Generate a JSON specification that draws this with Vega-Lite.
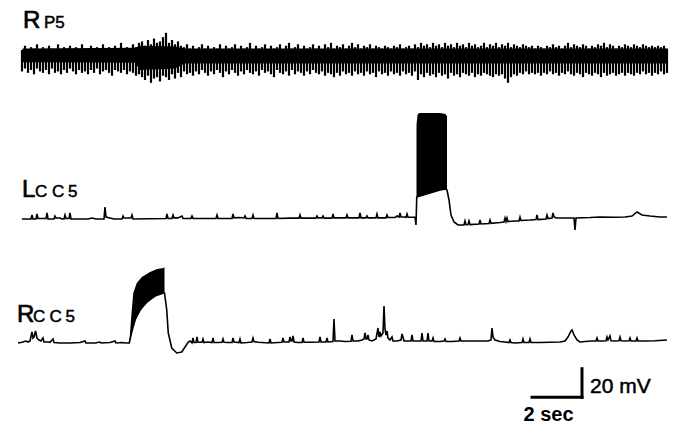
{
"$schema":"https://vega.github.io/schema/vega-lite/v6.json",
"width":675,"height":426,"padding":0,
"autosize":{"type":"fit","contains":"padding"},
"background":"white",
"config":{"view":{"stroke":null}},
"datasets":{
"rp5core":[{"t":0.9,"lo":-1.5,"hi":8},{"t":5.4,"lo":-2,"hi":8.5},{"t":5.6,"lo":-7,"hi":10},{"t":7.0,"lo":-6,"hi":9.5},{"t":7.4,"lo":-2.5,"hi":8},{"t":26.66,"lo":-2.5,"hi":8}],
"rp5":[
{"t":0.88,"hi":7,"lo":-8},{"t":1.00,"hi":10,"lo":-6},{"t":1.12,"hi":6,"lo":-9},{"t":1.24,"hi":9,"lo":-7},{"t":1.36,"hi":8,"lo":-10},{"t":1.48,"hi":11,"lo":-6},{"t":1.60,"hi":6,"lo":-8},{"t":1.72,"hi":9,"lo":-9},{"t":1.84,"hi":7,"lo":-7},{"t":1.96,"hi":10,"lo":-10},
{"t":2.08,"hi":8,"lo":-6},{"t":2.20,"hi":6,"lo":-9},{"t":2.32,"hi":11,"lo":-8},{"t":2.44,"hi":7,"lo":-10},{"t":2.56,"hi":9,"lo":-7},{"t":2.68,"hi":8,"lo":-9},{"t":2.80,"hi":10,"lo":-6},{"t":2.92,"hi":6,"lo":-8},{"t":3.04,"hi":9,"lo":-10},{"t":3.16,"hi":7,"lo":-7},
{"t":3.28,"hi":11,"lo":-9},{"t":3.40,"hi":8,"lo":-8},{"t":3.52,"hi":6,"lo":-10},{"t":3.64,"hi":10,"lo":-7},{"t":3.76,"hi":7,"lo":-9},{"t":3.88,"hi":9,"lo":-6},{"t":4.00,"hi":8,"lo":-10},{"t":4.12,"hi":11,"lo":-8},{"t":4.24,"hi":6,"lo":-7},{"t":4.36,"hi":9,"lo":-9},
{"t":4.48,"hi":7,"lo":-11},{"t":4.60,"hi":10,"lo":-7},{"t":4.72,"hi":8,"lo":-8},{"t":4.84,"hi":12,"lo":-9},{"t":4.96,"hi":7,"lo":-7},{"t":5.08,"hi":9,"lo":-10},{"t":5.20,"hi":8,"lo":-8},{"t":5.32,"hi":11,"lo":-9},{"t":5.44,"hi":9,"lo":-11},{"t":5.56,"hi":12,"lo":-10},
{"t":5.68,"hi":13,"lo":-12},{"t":5.80,"hi":10,"lo":-14},{"t":5.92,"hi":14,"lo":-11},{"t":6.04,"hi":11,"lo":-16},{"t":6.16,"hi":15,"lo":-13},{"t":6.28,"hi":12,"lo":-12},{"t":6.40,"hi":13,"lo":-15},{"t":6.52,"hi":16,"lo":-11},{"t":6.64,"hi":19,"lo":-12},{"t":6.76,"hi":12,"lo":-14},
{"t":6.88,"hi":14,"lo":-10},{"t":7.00,"hi":11,"lo":-13},{"t":7.12,"hi":13,"lo":-9},{"t":7.24,"hi":10,"lo":-12},{"t":7.36,"hi":9,"lo":-8},{"t":7.48,"hi":11,"lo":-10},{"t":7.60,"hi":8,"lo":-9},{"t":7.72,"hi":10,"lo":-11},{"t":7.84,"hi":7,"lo":-8},{"t":7.96,"hi":9,"lo":-10},
{"t":8.08,"hi":11,"lo":-7},{"t":8.20,"hi":8,"lo":-9},{"t":8.32,"hi":10,"lo":-11},{"t":8.44,"hi":7,"lo":-8},{"t":8.56,"hi":9,"lo":-10},{"t":8.68,"hi":8,"lo":-7},{"t":8.80,"hi":11,"lo":-9},{"t":8.92,"hi":7,"lo":-12},{"t":9.04,"hi":10,"lo":-8},{"t":9.16,"hi":8,"lo":-10},
{"t":9.28,"hi":9,"lo":-7},{"t":9.40,"hi":11,"lo":-9},{"t":9.52,"hi":7,"lo":-11},{"t":9.64,"hi":10,"lo":-8},{"t":9.76,"hi":8,"lo":-10},{"t":9.88,"hi":9,"lo":-7},{"t":10.00,"hi":12,"lo":-9},{"t":10.12,"hi":7,"lo":-10},{"t":10.24,"hi":10,"lo":-8},{"t":10.36,"hi":8,"lo":-11},
{"t":10.48,"hi":9,"lo":-7},{"t":10.60,"hi":11,"lo":-9},{"t":10.72,"hi":7,"lo":-8},{"t":10.84,"hi":10,"lo":-10},{"t":10.96,"hi":8,"lo":-12},{"t":11.08,"hi":9,"lo":-7},{"t":11.20,"hi":11,"lo":-9},{"t":11.32,"hi":7,"lo":-10},{"t":11.44,"hi":10,"lo":-8},{"t":11.56,"hi":12,"lo":-11},
{"t":11.68,"hi":8,"lo":-7},{"t":11.80,"hi":9,"lo":-10},{"t":11.92,"hi":11,"lo":-8},{"t":12.04,"hi":7,"lo":-9},{"t":12.16,"hi":10,"lo":-11},{"t":12.28,"hi":8,"lo":-8},{"t":12.40,"hi":9,"lo":-10},{"t":12.52,"hi":11,"lo":-7},{"t":12.64,"hi":8,"lo":-9},{"t":12.76,"hi":10,"lo":-10},
{"t":12.88,"hi":7,"lo":-8},{"t":13.00,"hi":11,"lo":-11},{"t":13.12,"hi":9,"lo":-9},{"t":13.24,"hi":12,"lo":-10},{"t":13.36,"hi":8,"lo":-12},{"t":13.48,"hi":10,"lo":-9},{"t":13.60,"hi":9,"lo":-11},{"t":13.72,"hi":11,"lo":-8},{"t":13.84,"hi":8,"lo":-10},{"t":13.96,"hi":10,"lo":-9},
{"t":14.08,"hi":12,"lo":-11},{"t":14.20,"hi":9,"lo":-8},{"t":14.32,"hi":11,"lo":-10},{"t":14.44,"hi":8,"lo":-9},{"t":14.56,"hi":10,"lo":-11},{"t":14.68,"hi":9,"lo":-8},{"t":14.80,"hi":11,"lo":-10},{"t":14.92,"hi":8,"lo":-9},{"t":15.04,"hi":10,"lo":-12},{"t":15.16,"hi":9,"lo":-8},
{"t":15.28,"hi":8,"lo":-10},{"t":15.40,"hi":10,"lo":-9},{"t":15.52,"hi":9,"lo":-11},{"t":15.64,"hi":8,"lo":-8},{"t":15.76,"hi":10,"lo":-10},{"t":15.88,"hi":9,"lo":-9},{"t":16.00,"hi":11,"lo":-11},{"t":16.12,"hi":8,"lo":-8},{"t":16.24,"hi":9,"lo":-10},{"t":16.36,"hi":10,"lo":-9},
{"t":16.48,"hi":8,"lo":-11},{"t":16.60,"hi":11,"lo":-8},{"t":16.72,"hi":9,"lo":-14},{"t":16.84,"hi":12,"lo":-10},{"t":16.96,"hi":10,"lo":-12},{"t":17.08,"hi":11,"lo":-9},{"t":17.20,"hi":9,"lo":-11},{"t":17.32,"hi":12,"lo":-10},{"t":17.44,"hi":10,"lo":-12},{"t":17.56,"hi":11,"lo":-9},
{"t":17.68,"hi":9,"lo":-11},{"t":17.80,"hi":12,"lo":-10},{"t":17.92,"hi":10,"lo":-13},{"t":18.04,"hi":11,"lo":-9},{"t":18.16,"hi":9,"lo":-11},{"t":18.28,"hi":12,"lo":-10},{"t":18.40,"hi":10,"lo":-12},{"t":18.52,"hi":11,"lo":-9},{"t":18.64,"hi":9,"lo":-10},{"t":18.76,"hi":12,"lo":-11},
{"t":18.88,"hi":10,"lo":-9},{"t":19.00,"hi":11,"lo":-12},{"t":19.12,"hi":9,"lo":-10},{"t":19.24,"hi":10,"lo":-11},{"t":19.36,"hi":12,"lo":-9},{"t":19.48,"hi":9,"lo":-10},{"t":19.60,"hi":11,"lo":-11},{"t":19.72,"hi":10,"lo":-12},{"t":19.84,"hi":12,"lo":-10},{"t":19.96,"hi":9,"lo":-11},
{"t":20.08,"hi":11,"lo":-10},{"t":20.20,"hi":10,"lo":-13},{"t":20.32,"hi":12,"lo":-16},{"t":20.44,"hi":9,"lo":-12},{"t":20.56,"hi":11,"lo":-10},{"t":20.68,"hi":10,"lo":-11},{"t":20.80,"hi":9,"lo":-9},{"t":20.92,"hi":11,"lo":-10},{"t":21.04,"hi":10,"lo":-8},{"t":21.16,"hi":9,"lo":-10},
{"t":21.28,"hi":10,"lo":-9},{"t":21.40,"hi":8,"lo":-10},{"t":21.52,"hi":10,"lo":-9},{"t":21.64,"hi":9,"lo":-11},{"t":21.76,"hi":8,"lo":-9},{"t":21.88,"hi":10,"lo":-10},{"t":22.00,"hi":9,"lo":-8},{"t":22.12,"hi":11,"lo":-10},{"t":22.24,"hi":9,"lo":-9},{"t":22.36,"hi":10,"lo":-11},
{"t":22.48,"hi":8,"lo":-9},{"t":22.60,"hi":10,"lo":-10},{"t":22.72,"hi":12,"lo":-8},{"t":22.84,"hi":9,"lo":-10},{"t":22.96,"hi":11,"lo":-11},{"t":23.08,"hi":10,"lo":-9},{"t":23.20,"hi":9,"lo":-10},{"t":23.32,"hi":11,"lo":-12},{"t":23.44,"hi":10,"lo":-9},{"t":23.56,"hi":8,"lo":-10},
{"t":23.68,"hi":10,"lo":-11},{"t":23.80,"hi":9,"lo":-9},{"t":23.92,"hi":11,"lo":-10},{"t":24.04,"hi":10,"lo":-12},{"t":24.16,"hi":12,"lo":-9},{"t":24.28,"hi":9,"lo":-11},{"t":24.40,"hi":11,"lo":-10},{"t":24.52,"hi":10,"lo":-9},{"t":24.64,"hi":8,"lo":-11},{"t":24.76,"hi":10,"lo":-10},
{"t":24.88,"hi":9,"lo":-9},{"t":25.00,"hi":11,"lo":-11},{"t":25.12,"hi":10,"lo":-9},{"t":25.24,"hi":9,"lo":-10},{"t":25.36,"hi":11,"lo":-11},{"t":25.48,"hi":10,"lo":-9},{"t":25.60,"hi":9,"lo":-10},{"t":25.72,"hi":11,"lo":-8},{"t":25.84,"hi":10,"lo":-10},{"t":25.96,"hi":9,"lo":-9},
{"t":26.08,"hi":10,"lo":-11},{"t":26.20,"hi":9,"lo":-9},{"t":26.32,"hi":10,"lo":-10},{"t":26.44,"hi":9,"lo":-8},{"t":26.56,"hi":10,"lo":-10},{"t":26.68,"hi":8,"lo":-9}
],
"lcc5":[
{"t":0.88,"v":0},{"t":1.24,"v":0},{"t":1.28,"v":2.8},{"t":1.32,"v":0},{"t":1.44,"v":0},{"t":1.48,"v":3.5},{"t":1.52,"v":0.3},{"t":1.84,"v":0.3},{"t":1.88,"v":4.2},{"t":1.92,"v":0},
{"t":2.16,"v":0},{"t":2.2,"v":2.1},{"t":2.24,"v":0.7},{"t":2.4,"v":0.7},{"t":2.48,"v":0},{"t":2.56,"v":0},{"t":2.6,"v":2.8},{"t":2.64,"v":0.3},{"t":2.76,"v":0.3},{"t":2.8,"v":4.2},{"t":2.84,"v":0},
{"t":3.52,"v":0},{"t":3.68,"v":0.7},{"t":3.84,"v":0},{"t":4.16,"v":0},{"t":4.2,"v":8.4},{"t":4.24,"v":1.4},{"t":4.4,"v":0.7},{"t":4.56,"v":0},
{"t":4.88,"v":0},{"t":4.92,"v":2.1},{"t":4.96,"v":0.7},{"t":5.12,"v":0.7},{"t":5.24,"v":0.7},{"t":5.28,"v":2.8},{"t":5.32,"v":0},{"t":6.0,"v":0.2},
{"t":6.64,"v":0.4},{"t":6.68,"v":3.5},{"t":6.72,"v":0.4},{"t":6.88,"v":0.4},{"t":6.92,"v":2.8},{"t":6.96,"v":0.8},{"t":7.12,"v":0.8},{"t":7.28,"v":2.1},{"t":7.32,"v":0.4},
{"t":7.64,"v":0.4},{"t":7.68,"v":2.1},{"t":7.72,"v":0.4},{"t":8.4,"v":0.4},{"t":8.64,"v":0.4},{"t":8.68,"v":2.8},{"t":8.72,"v":0.4},
{"t":9.28,"v":0.4},{"t":9.32,"v":3.5},{"t":9.36,"v":0.8},{"t":9.6,"v":1.0},{"t":9.76,"v":0.7},{"t":9.8,"v":2.1},{"t":9.84,"v":0.4},
{"t":10.08,"v":0.4},{"t":10.12,"v":2.8},{"t":10.16,"v":0.4},{"t":10.6,"v":0.4},{"t":11.04,"v":0.4},{"t":11.08,"v":4.2},{"t":11.12,"v":0.4},
{"t":11.6,"v":0.6},{"t":11.96,"v":0.6},{"t":12.0,"v":2.8},{"t":12.04,"v":0.6},{"t":12.64,"v":0.6},{"t":12.68,"v":2.1},{"t":12.72,"v":0.8},{"t":12.88,"v":0.8},{"t":12.92,"v":2.1},{"t":12.96,"v":0.6},
{"t":13.28,"v":0.6},{"t":13.32,"v":3.5},{"t":13.36,"v":0.8},{"t":13.84,"v":0.8},{"t":13.88,"v":2.8},{"t":13.92,"v":0.8},
{"t":14.36,"v":0.8},{"t":14.4,"v":4.2},{"t":14.44,"v":0.8},{"t":14.64,"v":0.8},{"t":14.68,"v":2.1},{"t":14.72,"v":0.8},
{"t":15.04,"v":0.8},{"t":15.08,"v":3.5},{"t":15.12,"v":0.8},{"t":15.44,"v":0.8},{"t":15.48,"v":2.8},{"t":15.52,"v":1.0},
{"t":15.8,"v":1.0},{"t":15.88,"v":2.1},{"t":15.96,"v":1.4},{"t":16.0,"v":4.2},{"t":16.04,"v":1.4},{"t":16.16,"v":1.4},{"t":16.24,"v":1.2},{"t":16.28,"v":3.5},{"t":16.32,"v":1.2},{"t":16.6,"v":1.2},
{"t":16.64,"v":-4.2},{"t":16.67,"v":15.4},{"t":16.8,"v":16.1},{"t":17.2,"v":18.2},{"t":17.6,"v":20.3},{"t":17.84,"v":21},
{"t":17.88,"v":20.3},{"t":17.96,"v":13.3},{"t":18.04,"v":2.8},{"t":18.16,"v":-2.1},{"t":18.32,"v":-4.2},{"t":18.56,"v":-4.2},{"t":18.6,"v":-1.4},{"t":18.64,"v":-4.0},{"t":18.72,"v":-3.9},{"t":18.76,"v":-1.4},{"t":18.8,"v":-3.9},
{"t":19.16,"v":-3.5},{"t":19.2,"v":-0.7},{"t":19.24,"v":-3.5},{"t":19.56,"v":-3.2},{"t":19.6,"v":-0.7},{"t":19.64,"v":-3.0},{"t":20.0,"v":-2.5},{"t":20.16,"v":-2.1},{"t":20.2,"v":0.7},{"t":20.24,"v":-1.8},{"t":20.28,"v":0.7},{"t":20.32,"v":-1.8},
{"t":20.6,"v":-1.4},{"t":20.76,"v":-1.4},{"t":20.8,"v":1.4},{"t":20.84,"v":-1.0},{"t":21.2,"v":-0.7},{"t":21.44,"v":-0.4},{"t":21.48,"v":2.8},{"t":21.52,"v":-0.4},
{"t":21.84,"v":0},{"t":21.88,"v":2.8},{"t":21.92,"v":0.3},{"t":22.08,"v":0.7},{"t":22.12,"v":4.2},{"t":22.16,"v":1.4},{"t":22.24,"v":0.7},{"t":22.6,"v":0.7},
{"t":22.96,"v":0.7},{"t":23.0,"v":-7.7},{"t":23.04,"v":0.7},{"t":23.6,"v":1.0},{"t":24.0,"v":1.4},{"t":24.6,"v":1.2},{"t":25.0,"v":1.4},{"t":25.28,"v":2.1},{"t":25.48,"v":4.9},{"t":25.68,"v":2.8},{"t":26.0,"v":2.1},{"t":26.4,"v":1.4},{"t":26.68,"v":1.4}
],
"lcc5burst":[{"t":16.66,"lo":15.4,"hi":66},{"t":16.7,"lo":15.6,"hi":72.8},{"t":16.76,"lo":16.0,"hi":74.2},{"t":17.2,"lo":18.2,"hi":74.2},{"t":17.6,"lo":20.3,"hi":74.2},{"t":17.82,"lo":21,"hi":73.5},{"t":17.88,"lo":21,"hi":72}],
"rcc5":[
{"t":0.72,"v":0},{"t":0.88,"v":0.5},{"t":1.04,"v":1.4},{"t":1.12,"v":0.7},{"t":1.2,"v":1.4},{"t":1.28,"v":7.7},{"t":1.32,"v":3.5},{"t":1.36,"v":4.2},{"t":1.42,"v":8.4},{"t":1.48,"v":3.5},{"t":1.56,"v":2.1},{"t":1.64,"v":1.4},{"t":1.72,"v":3.5},{"t":1.76,"v":0.7},
{"t":1.92,"v":0.7},{"t":2.0,"v":0.5},{"t":2.12,"v":2.8},{"t":2.16,"v":0.3},{"t":2.4,"v":0},{"t":2.8,"v":0},{"t":3.2,"v":0.3},{"t":3.4,"v":1.4},{"t":3.44,"v":0},{"t":3.8,"v":0},{"t":4.0,"v":0.7},{"t":4.04,"v":0},{"t":4.4,"v":0.4},{"t":4.6,"v":1.4},{"t":4.64,"v":0},{"t":4.88,"v":0.3},{"t":5.04,"v":0},{"t":5.16,"v":0},
{"t":5.17,"v":0},{"t":5.27,"v":7.7},{"t":5.4,"v":16.1},{"t":5.6,"v":23.1},{"t":5.87,"v":28.7},{"t":6.2,"v":32.9},{"t":6.54,"v":35},{"t":6.58,"v":35},{"t":6.67,"v":23.1},{"t":6.73,"v":7},{"t":6.87,"v":-3.5},{"t":7.07,"v":-7},{"t":7.27,"v":-6.3},{"t":7.4,"v":-2.8},{"t":7.53,"v":0.7},{"t":7.6,"v":1.4},
{"t":7.68,"v":0},{"t":7.72,"v":3.5},{"t":7.76,"v":0.3},{"t":7.84,"v":0.3},{"t":7.88,"v":4.2},{"t":7.92,"v":0.5},{"t":8.08,"v":0.5},{"t":8.12,"v":2.8},{"t":8.16,"v":0.3},{"t":8.32,"v":0.7},{"t":8.48,"v":0.3},{"t":8.52,"v":3.5},{"t":8.56,"v":0.3},
{"t":8.72,"v":0.3},{"t":8.88,"v":0.5},{"t":8.92,"v":2.8},{"t":8.96,"v":0.5},{"t":9.12,"v":0.3},{"t":9.28,"v":0.3},{"t":9.32,"v":3.5},{"t":9.36,"v":0.7},{"t":9.56,"v":0.3},{"t":9.6,"v":2.8},{"t":9.64,"v":0},
{"t":9.88,"v":0.3},{"t":10.08,"v":0.7},{"t":10.12,"v":3.5},{"t":10.16,"v":1.0},{"t":10.32,"v":0.5},{"t":10.48,"v":0.3},{"t":10.76,"v":0},{"t":10.8,"v":2.8},{"t":10.84,"v":0},
{"t":11.12,"v":0.3},{"t":11.28,"v":0.5},{"t":11.32,"v":3.5},{"t":11.36,"v":0.7},{"t":11.56,"v":0.7},{"t":11.6,"v":4.2},{"t":11.64,"v":1.4},{"t":11.68,"v":1.4},{"t":11.72,"v":4.9},{"t":11.76,"v":0.7},
{"t":11.92,"v":0.3},{"t":12.08,"v":0.3},{"t":12.12,"v":3.5},{"t":12.16,"v":0.5},{"t":12.48,"v":0.5},{"t":12.76,"v":0.7},{"t":12.8,"v":4.2},{"t":12.84,"v":0.7},{"t":13.04,"v":0.7},{"t":13.08,"v":3.5},{"t":13.12,"v":0.7},
{"t":13.32,"v":1.0},{"t":13.36,"v":16.8},{"t":13.4,"v":1.4},{"t":13.6,"v":1.4},{"t":13.8,"v":1.0},{"t":14.04,"v":1.2},{"t":14.08,"v":5.6},{"t":14.12,"v":1.4},{"t":14.32,"v":1.4},{"t":14.48,"v":2.1},
{"t":14.56,"v":2.8},{"t":14.6,"v":7.0},{"t":14.64,"v":2.8},{"t":14.68,"v":2.8},{"t":14.72,"v":5.6},{"t":14.76,"v":2.1},{"t":14.88,"v":1.4},{"t":15.04,"v":2.8},{"t":15.12,"v":10.5},{"t":15.16,"v":4.2},{"t":15.2,"v":7.7},{"t":15.24,"v":4.9},{"t":15.32,"v":7},{"t":15.36,"v":25.9},{"t":15.4,"v":9.8},{"t":15.44,"v":5.6},{"t":15.48,"v":8.4},{"t":15.52,"v":3.5},
{"t":15.6,"v":2.1},{"t":15.68,"v":4.2},{"t":15.72,"v":1.4},{"t":15.88,"v":1.4},{"t":16.04,"v":2.1},{"t":16.08,"v":6.3},{"t":16.12,"v":4.2},{"t":16.16,"v":1.4},{"t":16.28,"v":1.4},{"t":16.44,"v":1.4},{"t":16.48,"v":5.6},{"t":16.52,"v":1.4},
{"t":16.72,"v":1.4},{"t":16.84,"v":1.4},{"t":16.88,"v":7.0},{"t":16.92,"v":1.4},{"t":17.08,"v":1.4},{"t":17.12,"v":7.0},{"t":17.16,"v":1.4},{"t":17.28,"v":1.4},{"t":17.32,"v":3.5},{"t":17.36,"v":1.0},
{"t":17.6,"v":1.0},{"t":17.76,"v":1.4},{"t":17.8,"v":2.8},{"t":17.84,"v":1.0},{"t":18.08,"v":1.0},{"t":18.36,"v":1.4},{"t":18.4,"v":3.5},{"t":18.44,"v":1.4},{"t":18.8,"v":1.4},{"t":19.2,"v":1.4},
{"t":19.52,"v":1.4},{"t":19.64,"v":2.1},{"t":19.68,"v":10.5},{"t":19.72,"v":4.2},{"t":19.8,"v":2.1},{"t":20.0,"v":1.0},{"t":20.2,"v":0.7},{"t":20.36,"v":0.3},{"t":20.4,"v":2.1},{"t":20.44,"v":0.3},
{"t":20.6,"v":0},{"t":20.88,"v":0.3},{"t":20.92,"v":2.8},{"t":20.96,"v":0.3},{"t":21.16,"v":0.3},{"t":21.2,"v":2.8},{"t":21.24,"v":0.3},{"t":21.6,"v":0.3},{"t":22.0,"v":0.5},{"t":22.4,"v":0.7},
{"t":22.6,"v":1.4},{"t":22.72,"v":4.2},{"t":22.84,"v":8.4},{"t":22.88,"v":9.1},{"t":22.96,"v":5.6},{"t":23.08,"v":2.1},{"t":23.2,"v":0.7},{"t":23.4,"v":1.0},{"t":23.68,"v":1.4},
{"t":23.84,"v":1.4},{"t":23.88,"v":3.5},{"t":23.92,"v":1.4},{"t":24.08,"v":1.4},{"t":24.24,"v":1.6},{"t":24.28,"v":4.2},{"t":24.32,"v":2.1},{"t":24.4,"v":4.9},{"t":24.44,"v":1.6},
{"t":24.6,"v":1.4},{"t":24.76,"v":1.6},{"t":24.8,"v":4.2},{"t":24.84,"v":1.6},{"t":25.0,"v":1.4},{"t":25.16,"v":1.6},{"t":25.2,"v":3.5},{"t":25.24,"v":1.4},{"t":25.44,"v":1.4},{"t":25.48,"v":3.5},{"t":25.52,"v":1.4},
{"t":25.8,"v":1.4},{"t":26.2,"v":1.6},{"t":26.68,"v":2.1}
],
"rcc5burst":[{"t":5.17,"lo":0,"hi":0},{"t":5.27,"lo":7.7,"hi":23.1},{"t":5.33,"lo":11,"hi":35},{"t":5.47,"lo":18,"hi":42},{"t":5.67,"lo":24,"hi":46.2},{"t":6.0,"lo":30.5,"hi":49.7},{"t":6.28,"lo":33.6,"hi":51.8},{"t":6.54,"lo":35,"hi":52.5},{"t":6.58,"lo":35,"hi":53.2}],
"scalebar":[{"t":23.28,"t2":23.28,"v":-18,"v2":-38},{"t":21.28,"t2":23.28,"v":-38,"v2":-38}]
},
"layer":[
{"layer":[
 {"data":{"name":"rp5core"},"mark":{"type":"area","color":"#000"},
  "encoding":{"x":{"field":"t","type":"quantitative","scale":{"domain":[0,27],"nice":false,"zero":false},"axis":null},
   "y":{"field":"lo","type":"quantitative","scale":{"domain":[-256.2,42],"nice":false,"zero":false},"axis":null},"y2":{"field":"hi"}}},
 {"data":{"name":"rp5"},"mark":{"type":"rule","color":"#000","strokeWidth":2.2},
  "encoding":{"x":{"field":"t","type":"quantitative","axis":null},
   "y":{"field":"lo","type":"quantitative","axis":null},"y2":{"field":"hi"}}},
 {"data":{"values":[{"t":0.92,"v":22.4,"s":"R"}]},"mark":{"type":"text","align":"left","baseline":"alphabetic","font":"Liberation Sans","fontSize":24,"color":"#000","stroke":"#000","strokeWidth":0.7},
  "encoding":{"x":{"field":"t","type":"quantitative","axis":null},"y":{"field":"v","type":"quantitative","axis":null},"text":{"field":"s"}}},
 {"data":{"values":[{"t":1.76,"v":22.4,"s":"P5"}]},"mark":{"type":"text","align":"left","baseline":"alphabetic","font":"Liberation Sans","fontSize":17,"color":"#000","stroke":"#000","strokeWidth":0.5},
  "encoding":{"x":{"field":"t","type":"quantitative","axis":null},"y":{"field":"v","type":"quantitative","axis":null},"text":{"field":"s"}}}
]},
{"layer":[
 {"data":{"name":"lcc5burst"},"mark":{"type":"area","color":"#000"},
  "encoding":{"x":{"field":"t","type":"quantitative","scale":{"domain":[0,27],"nice":false,"zero":false},"axis":null},
   "y":{"field":"lo","type":"quantitative","scale":{"domain":[-144.9,153.3],"nice":false,"zero":false},"axis":null},"y2":{"field":"hi"}}},
 {"data":{"name":"lcc5"},"mark":{"type":"line","color":"#000","strokeWidth":1.6},
  "encoding":{"x":{"field":"t","type":"quantitative","axis":null},"y":{"field":"v","type":"quantitative","axis":null}}},
 {"data":{"values":[{"t":0.88,"v":15.4,"s":"L"}]},"mark":{"type":"text","align":"left","baseline":"alphabetic","font":"Liberation Sans","fontSize":24,"color":"#000","stroke":"#000","strokeWidth":0.7},
  "encoding":{"x":{"field":"t","type":"quantitative","axis":null},"y":{"field":"v","type":"quantitative","axis":null},"text":{"field":"s"}}},
 {"data":{"values":[{"t":1.4,"v":15.4,"s":"C"},{"t":2.08,"v":15.4,"s":"C"},{"t":2.72,"v":15.4,"s":"5"}]},"mark":{"type":"text","align":"left","baseline":"alphabetic","font":"Liberation Sans","fontSize":17,"color":"#000","stroke":"#000","strokeWidth":0.5},
  "encoding":{"x":{"field":"t","type":"quantitative","axis":null},"y":{"field":"v","type":"quantitative","axis":null},"text":{"field":"s"}}}
]},
{"layer":[
 {"data":{"name":"rcc5burst"},"mark":{"type":"area","color":"#000"},
  "encoding":{"x":{"field":"t","type":"quantitative","scale":{"domain":[0,27],"nice":false,"zero":false},"axis":null},
   "y":{"field":"lo","type":"quantitative","scale":{"domain":[-58.1,240.1],"nice":false,"zero":false},"axis":null},"y2":{"field":"hi"}}},
 {"data":{"name":"rcc5"},"mark":{"type":"line","color":"#000","strokeWidth":1.6},
  "encoding":{"x":{"field":"t","type":"quantitative","axis":null},"y":{"field":"v","type":"quantitative","axis":null}}},
 {"data":{"name":"scalebar"},"mark":{"type":"rule","color":"#000","strokeWidth":3,"strokeCap":"square"},
  "encoding":{"x":{"field":"t","type":"quantitative","axis":null},"x2":{"field":"t2"},"y":{"field":"v","type":"quantitative","axis":null},"y2":{"field":"v2"}}},
 {"data":{"values":[{"t":0.68,"v":14.7,"s":"R"}]},"mark":{"type":"text","align":"left","baseline":"alphabetic","font":"Liberation Sans","fontSize":24,"color":"#000","stroke":"#000","strokeWidth":0.7},
  "encoding":{"x":{"field":"t","type":"quantitative","axis":null},"y":{"field":"v","type":"quantitative","axis":null},"text":{"field":"s"}}},
 {"data":{"values":[{"t":1.32,"v":14.7,"s":"C"},{"t":1.98,"v":14.7,"s":"C"},{"t":2.62,"v":14.7,"s":"5"}]},"mark":{"type":"text","align":"left","baseline":"alphabetic","font":"Liberation Sans","fontSize":17,"color":"#000","stroke":"#000","strokeWidth":0.5},
  "encoding":{"x":{"field":"t","type":"quantitative","axis":null},"y":{"field":"v","type":"quantitative","axis":null},"text":{"field":"s"}}},
 {"data":{"values":[{"t":23.6,"v":-35,"s":"20 mV"}]},"mark":{"type":"text","align":"left","baseline":"alphabetic","font":"Liberation Sans","fontSize":21,"color":"#000","stroke":"#000","strokeWidth":0.5},
  "encoding":{"x":{"field":"t","type":"quantitative","axis":null},"y":{"field":"v","type":"quantitative","axis":null},"text":{"field":"s"}}},
 {"data":{"values":[{"t":21.94,"v":-54.6,"s":"2 sec"}]},"mark":{"type":"text","align":"center","baseline":"alphabetic","font":"Liberation Sans","fontSize":20,"fontWeight":"bold","color":"#000"},
  "encoding":{"x":{"field":"t","type":"quantitative","axis":null},"y":{"field":"v","type":"quantitative","axis":null},"text":{"field":"s"}}}
]}
],
"resolve":{"scale":{"y":"independent"}}
}
